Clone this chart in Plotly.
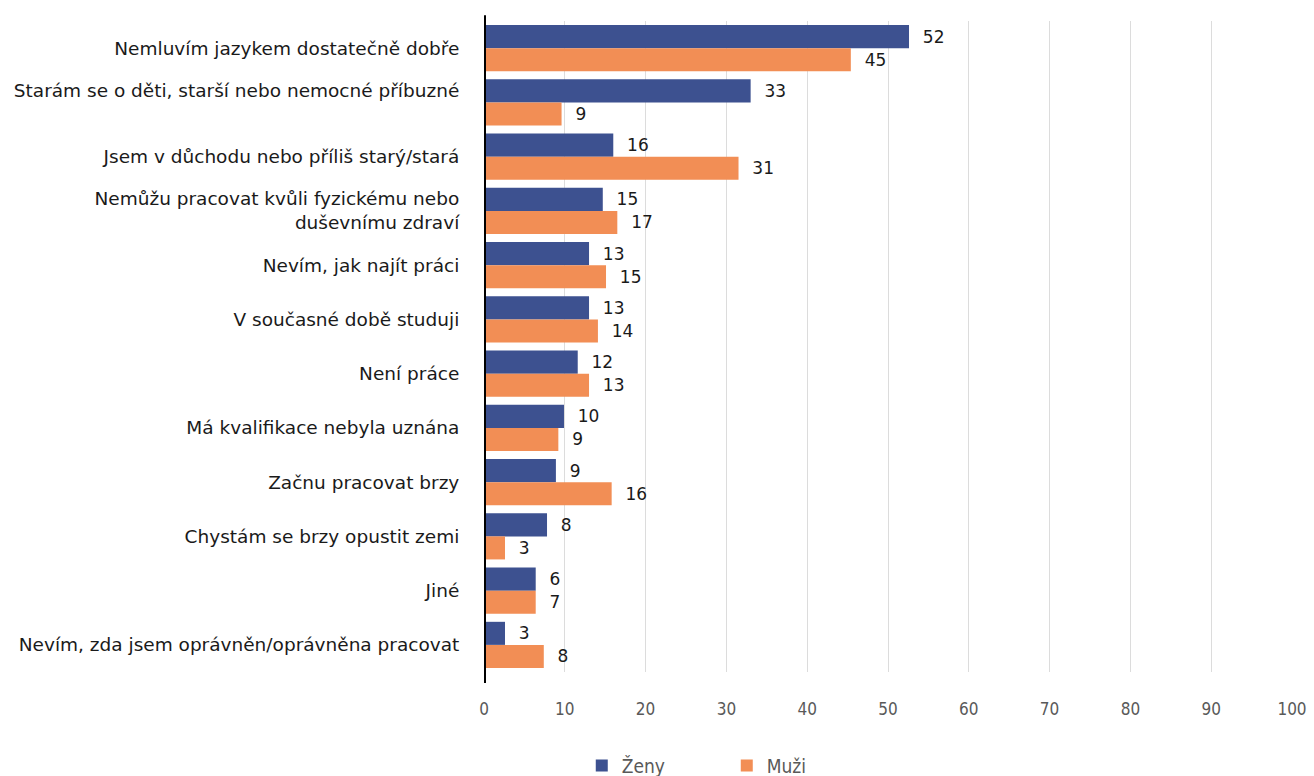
import plotly.graph_objects as go

categories = [
    "Nemluvím jazykem dostatečně dobře",
    "Starám se o děti, starší nebo nemocné příbuzné<br> ",
    "Jsem v důchodu nebo příliš starý/stará",
    "Nemůžu pracovat kvůli fyzickému nebo<br>duševnímu zdraví",
    "Nevím, jak najít práci",
    "V současné době studuji",
    "Není práce",
    "Má kvalifikace nebyla uznána",
    "Začnu pracovat brzy",
    "Chystám se brzy opustit zemi",
    "Jiné",
    "Nevím, zda jsem oprávněn/oprávněna pracovat",
]
zeny_values = [52.6, 33.0, 16.0, 14.7, 13.0, 13.0, 11.6, 9.9, 8.9, 7.8, 6.4, 2.6]
muzi_values = [45.4, 9.6, 31.5, 16.5, 15.1, 14.1, 13.0, 9.2, 15.8, 2.6, 6.4, 7.4]
zeny_labels = [52, 33, 16, 15, 13, 13, 12, 10, 9, 8, 6, 3]
muzi_labels = [45, 9, 31, 17, 15, 14, 13, 9, 16, 3, 7, 8]
x_ticks = [0, 10, 20, 30, 40, 50, 60, 70, 80, 90, 100]

BLUE = "#3D5190"
ORANGE = "#F28E55"
FONT = "DejaVu Sans"
FONT_C = "DejaVu Sans Condensed"

fig = go.Figure()
fig.add_trace(go.Bar(
    y=categories, x=zeny_values, orientation="h", name="Ženy",
    marker=dict(color=BLUE, line=dict(width=0)),
    text=["  " + str(v) for v in zeny_labels], textposition="outside",
    textfont=dict(family=FONT, size=17, color="#1a1a1a"), cliponaxis=False,
))
fig.add_trace(go.Bar(
    y=categories, x=muzi_values, orientation="h", name="Muži",
    marker=dict(color=ORANGE, line=dict(width=0)),
    text=["  " + str(v) for v in muzi_labels], textposition="outside",
    textfont=dict(family=FONT, size=17, color="#1a1a1a"), cliponaxis=False,
))

fig.update_layout(
    width=1314, height=776,
    margin=dict(l=484, r=22, t=21, b=104, autoexpand=False),
    paper_bgcolor="white", plot_bgcolor="white",
    barmode="group", bargap=0.15, bargroupgap=0,
    font=dict(family=FONT, size=16, color="#1a1a1a"),
    legend=dict(orientation="h", x=0.121, xanchor="left", y=-0.144, yanchor="middle",
                font=dict(family=FONT_C, size=19, color="#595959"),
                entrywidth=100, itemsizing="constant"),
    xaxis=dict(range=[0, 100], tickvals=x_ticks, showgrid=True, gridcolor="#dcdcdc",
               gridwidth=1, zeroline=False, showline=False, automargin=False,
               ticks="outside", ticklen=22, tickcolor="rgba(0,0,0,0)",
               tickfont=dict(family=FONT_C, size=17, color="#595959")),
    yaxis=dict(autorange="reversed", showgrid=False, zeroline=False, showline=False,
               automargin=False,
               ticks="outside", ticklen=20, tickcolor="rgba(0,0,0,0)",
               tickfont=dict(family=FONT, size=18.5, color="#1a1a1a")),
    shapes=[dict(type="line", xref="x", yref="paper", x0=0, x1=0, y0=-0.017, y1=1.009,
                 line=dict(color="black", width=4))],
)

fig.write_html("out.html", config={"displayModeBar": False},
               post_script="document.body.style.margin='0';document.body.style.padding='0';")
